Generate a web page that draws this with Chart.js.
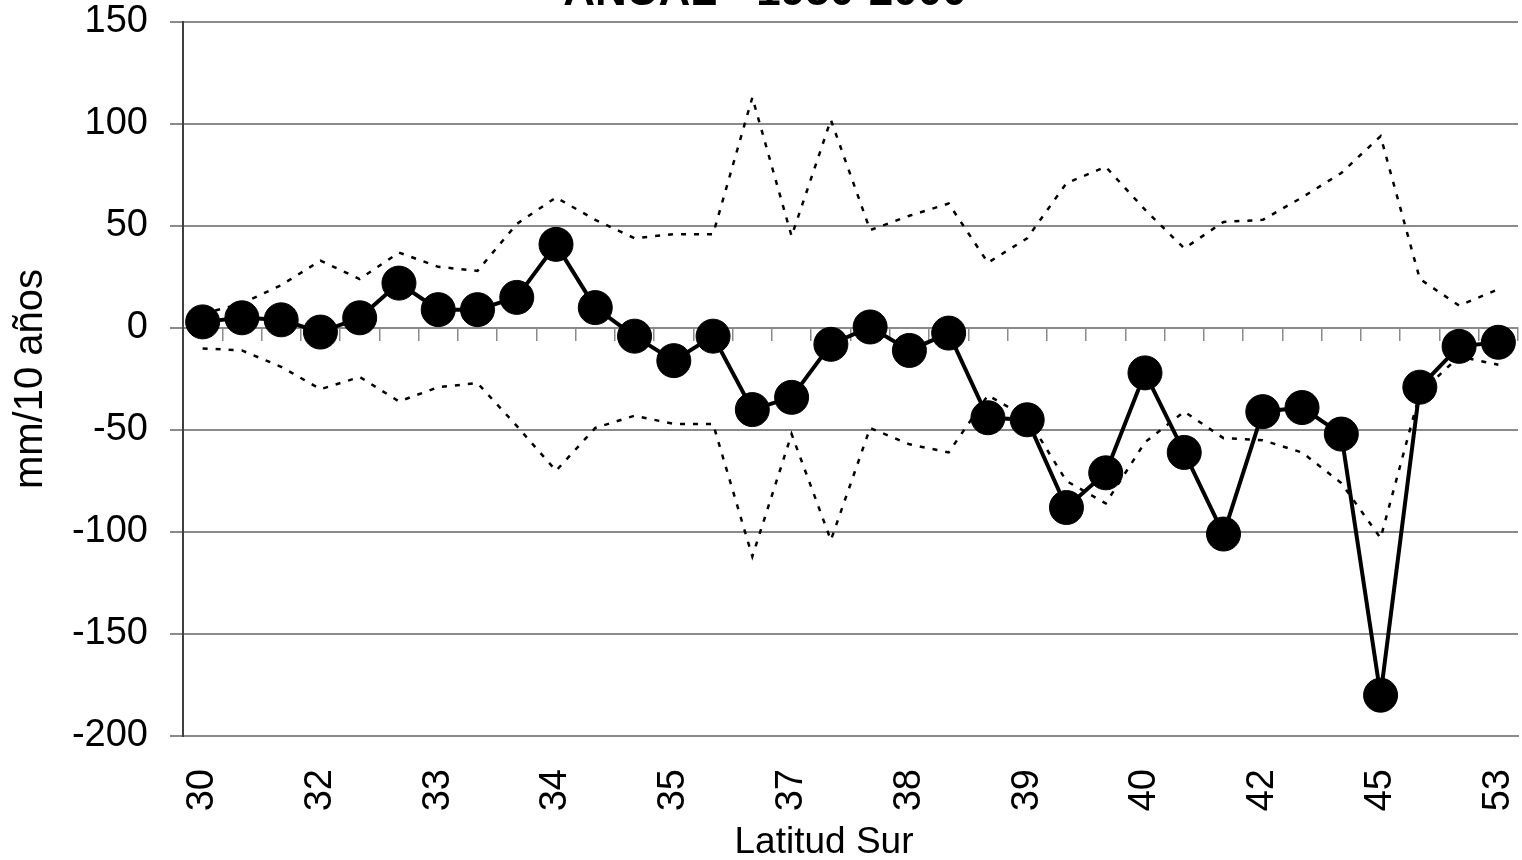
<!DOCTYPE html>
<html lang="es">
<head>
    <meta charset="UTF-8">
    <title>ANUAL 1950-2000</title>
    <script src="https://cdn.jsdelivr.net/npm/chart.js"></script>
    <style>
        body { margin: 0; background: #fff; }
    </style>
</head>
<body>
<canvas id="trendChart" width="1522" height="860"></canvas>

<script>
    // latitudes of the stations (only every third one is labelled)
    const latitudes = ['30', '31', '31', '32', '32', '32', '33', '33', '33', '34', '34', '34',
        '35', '36', '36', '37', '37', '38', '38', '38', '39', '39', '39', '40', '40', '41',
        '41', '42', '43', '44', '45', '46', '51', '53'];

    // trend, mm/10 years
    const trend = [3, 5, 4, -2, 5, 22, 9, 9, 15, 41, 10, -4, -16, -4, -40, -34, -8, 0.5,
        -11, -2.5, -44, -45, -88, -71, -22, -61, -101, -41, -39, -52, -180, -29, -9, -7];

    // significance band
    const upperLimit = [7, 12, 21, 33, 24, 37, 30, 28, 51, 64, 53, 44, 46, 46, 113, 45, 102, 48,
        55, 61, 32, 44, 71, 79, 58, 39, 52, 53, 64, 76, 94, 24, 11, 19];
    const lowerLimit = [-10, -11, -19, -30, -24, -36, -29, -27, -48, -70, -49, -43, -47, -47, -112, -52, -104, -49,
        -57, -61, -33, -44, -75, -86, -56, -41, -54, -55, -61, -76, -103, -32, -14, -18];

    const chartTitle = 'ANUAL - 1950-2000';
    const xTitle = 'Latitud Sur';
    const yTitle = 'mm/10 años';

    const fontFamily = '"Liberation Sans", Arial, sans-serif';
    const gridGray = '#8a8a8a';

    const textPlugin = {
        id: 'textPlugin',
        afterDraw(chart) {
            const c = chart.ctx;
            c.save();
            c.fillStyle = '#000';
            c.textAlign = 'center';
            c.textBaseline = 'alphabetic';
            c.font = 'bold 44px ' + fontFamily;
            c.fillText(chartTitle, 765, 5);
            c.font = '37px ' + fontFamily;
            c.fillText(xTitle, 824, 853);
            c.restore();
        }
    };

    const ctx = document.getElementById('trendChart').getContext('2d');

    new Chart(ctx, {
        type: 'line',
        data: {
            labels: latitudes,
            datasets: [{
                label: 'Tendencia',
                data: trend,
                borderColor: '#000',
                backgroundColor: '#000',
                borderWidth: 4,
                pointRadius: 17,
                pointBorderWidth: 1,
                pointBackgroundColor: '#000',
                tension: 0
            }, {
                label: 'Límite superior',
                data: upperLimit,
                borderColor: '#000',
                borderWidth: 2.5,
                borderDash: [5, 8],
                pointRadius: 0,
                tension: 0
            }, {
                label: 'Límite inferior',
                data: lowerLimit,
                borderColor: '#000',
                borderWidth: 2.5,
                borderDash: [5, 8],
                pointRadius: 0,
                tension: 0
            }]
        },
        options: {
            responsive: false,
            animation: false,
            layout: {
                autoPadding: false,
                padding: { top: 22, right: 4, left: 0, bottom: 0 }
            },
            plugins: {
                legend: { display: false },
                title: { display: false },
                tooltip: { enabled: false }
            },
            scales: {
                x: {
                    position: 'bottom',
                    offset: true,
                    afterFit: (scale) => {
                        scale.height = 124;
                        scale.paddingLeft = 0;
                        scale.paddingRight = 0;
                    },
                    grid: {
                        offset: true,
                        drawTicks: false,
                        color: (c) => c.index === latitudes.length ? gridGray : 'transparent',
                        lineWidth: 2
                    },
                    border: { display: true, color: gridGray, width: 2 },
                    ticks: {
                        autoSkip: false,
                        minRotation: 90,
                        maxRotation: 90,
                        padding: 33,
                        color: '#000',
                        font: { family: fontFamily, size: 38 },
                        callback: (val, idx) => idx % 3 === 0 ? latitudes[idx] : ''
                    }
                },
                xZero: {
                    type: 'category',
                    position: { y: 0 },
                    offset: true,
                    afterFit: (scale) => {
                        scale.paddingLeft = 0;
                        scale.paddingRight = 0;
                    },
                    grid: {
                        offset: true,
                        drawOnChartArea: false,
                        drawTicks: true,
                        tickLength: 12,
                        color: gridGray,
                        lineWidth: 1.5
                    },
                    border: { display: true, color: gridGray, width: 2 },
                    ticks: { display: false }
                },
                y: {
                    min: -200,
                    max: 150,
                    afterFit: (scale) => {
                        scale.width = 183;
                        scale.paddingTop = 0;
                        scale.paddingBottom = 0;
                    },
                    grid: {
                        color: gridGray,
                        lineWidth: 2,
                        tickLength: 13
                    },
                    border: { display: true, color: '#404040', width: 2 },
                    ticks: {
                        stepSize: 50,
                        padding: 22,
                        color: '#000',
                        font: { family: fontFamily, size: 38 }
                    },
                    title: {
                        display: true,
                        text: yTitle,
                        color: '#000',
                        padding: { top: 7, bottom: 0 },
                        font: { family: fontFamily, size: 40 }
                    }
                }
            }
        },
        plugins: [textPlugin]
    });
</script>
</body>
</html>
